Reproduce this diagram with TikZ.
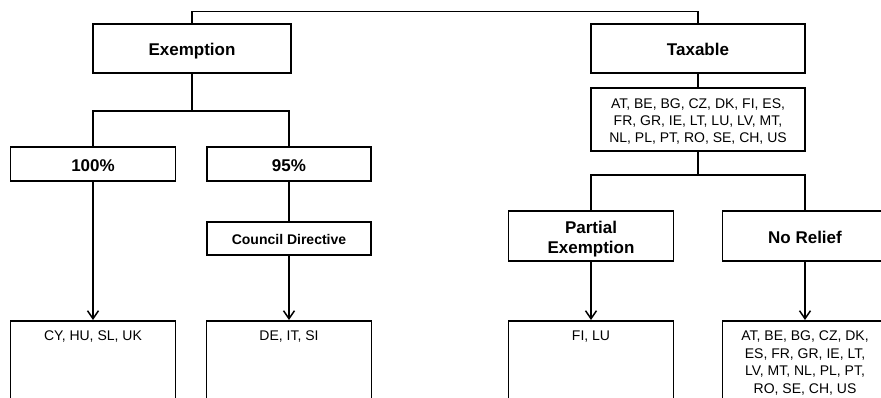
\documentclass[tikz,border=0pt]{standalone}
\usepackage{fontspec}
\setmainfont{Liberation Sans}
\usetikzlibrary{arrows.meta}
\begin{document}
\begin{tikzpicture}[x=1pt,y=-1pt,
  line width=1.5pt,
  box/.style={draw, rectangle, inner sep=0pt, line width=1.5pt, align=center},
  head/.style={box, font=\fontsize{17}{20.5}\selectfont\bfseries},
  onehead/.style={head, text height=14pt, text depth=0pt},
  listbox/.style={box, font=\fontsize{14}{16.7}\selectfont},
  bodytext/.style={font=\fontsize{14}{17.7}\selectfont, align=center, inner sep=0pt, anchor=north},
  outbox/.style={box, minimum width=165pt, minimum height=110pt, anchor=north},
  link/.style={draw, line width=1.5pt},
  arr/.style={link, -{Straight Barb[length=8pt,width=11pt]}},
]
\useasboundingbox (0,0) rectangle (881,397);
\clip (0,0) rectangle (881,397);

% upper level
\node[onehead, minimum width=198pt, minimum height=49pt] (ex) at (192,48.5) {Exemption};
\node[onehead, minimum width=214pt, minimum height=49pt] (tax) at (698,48.5) {Taxable};
\node[listbox, minimum width=214pt, minimum height=63pt] (cl) at (698,119.5)
  {\rule{0pt}{14pt}AT, BE, BG, CZ, DK, FI, ES,\\FR, GR, IE, LT, LU, LV, MT,\\NL, PL, PT, RO, SE, CH, US};

% exemption branch
\node[onehead, minimum width=165pt, minimum height=34pt] (p100) at (93,164) {100\%};
\node[onehead, minimum width=164pt, minimum height=34pt] (p95) at (289,164) {95\%};
\node[box, font=\fontsize{14}{17}\selectfont\bfseries, line width=2.2pt,
      text height=11.5pt, text depth=0pt,
      minimum width=164pt, minimum height=33pt] (cd) at (289,238.5) {Council Directive};

% taxable branch
\node[head, minimum width=165pt, minimum height=50pt] (pe) at (591,236)
  {\rule{0pt}{15pt}Partial\\\raisebox{0pt}[\height][0pt]{Exemption}};
\node[onehead, minimum width=165pt, minimum height=50pt] (nr) at (805,236) {No Relief};

% outcome boxes
\node[outbox] (b1) at (93,320) {};
\node[outbox] (b2) at (289,320) {};
\node[outbox] (b3) at (591,320) {};
\node[outbox] (b4) at (805,320) {};
\node[bodytext] (t1) at ([yshift=-10pt]b1.north) {CY, HU, SL, UK};
\node[bodytext] (t2) at ([yshift=-10pt]b2.north) {DE, IT, SI};
\node[bodytext] (t3) at ([yshift=-10pt]b3.north) {FI, LU};
\node[bodytext] (t4) at ([yshift=-10pt]b4.north)
  {AT, BE, BG, CZ, DK,\\ES, FR, GR, IE, LT,\\LV, MT, NL, PL, PT,\\RO, SE, CH, US};

% connectors
\path[link] (ex.north) -- ++(0,-12) -| (tax.north);
\path[link] (ex.south) -- ++(0,37) coordinate (j1);
\path[link] (p100.north) |- (j1) -| (p95.north);
\path[arr] (p100.south) -- (b1.north);
\path[link] (p95.south) -- (cd.north);
\path[arr] (cd.south) -- (b2.north);
\path[link] (tax.south) -- (cl.north);
\path[link] (cl.south) -- ++(0,23) coordinate (j2);
\path[link] (pe.north) |- (j2) -| (nr.north);
\path[arr] (pe.south) -- (b3.north);
\path[arr] (nr.south) -- (b4.north);
\end{tikzpicture}
\end{document}
